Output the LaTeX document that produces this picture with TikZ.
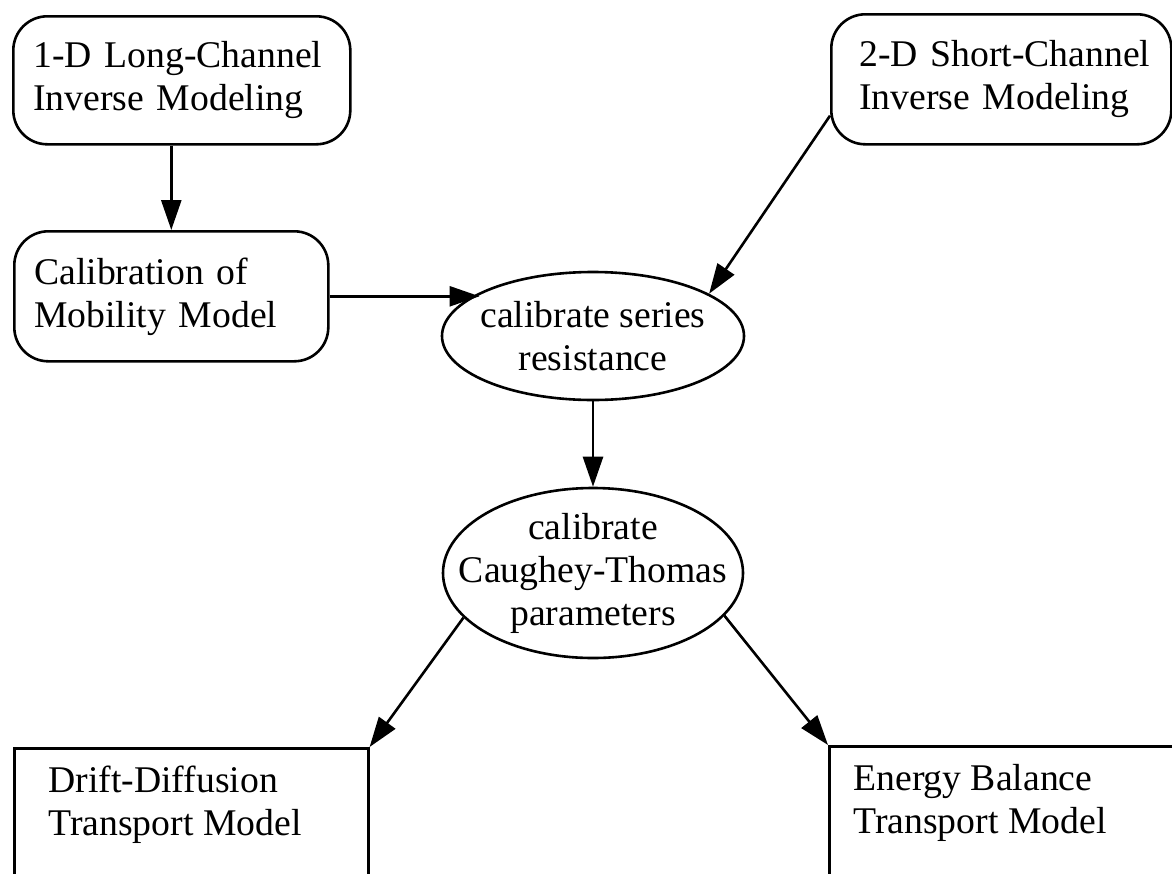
\documentclass[tikz,border=0pt]{standalone}
\usepackage{fontspec}
\setmainfont{Liberation Serif}
\usetikzlibrary{arrows.meta,shapes.geometric}
\begin{document}
\begin{tikzpicture}[x=0.5pt,y=-0.5pt,
  every node/.style={font=\fontsize{18.85pt}{21.5pt}\selectfont},
  flow/.style={line width=1.3pt,-{Triangle[length=15pt,width=10pt]}},
  roundbox/.style={draw,line width=1.3pt,rounded corners=17pt,align=left,
    inner ysep=0pt,anchor=north west},
  ovalbox/.style={draw,ellipse,line width=1.3pt,align=center,inner ysep=0pt},
  squarebox/.style={draw,line width=1.3pt,anchor=north west,inner sep=0pt},
  caption/.style={align=left,anchor=north west,inner sep=0pt}]
\useasboundingbox (0,0) rectangle (1172,873);
\clip (0,0) rectangle (1172,873);

% inverse-modeling sources
\node[roundbox,text width=148.5pt,inner xsep=10pt,minimum height=64pt] (A) at (12,15)
  {\mbox{1-D Long-Channel}\\\mbox{Inverse Modeling}};
\node[roundbox,text width=142pt,inner xsep=14pt,minimum height=65pt] (B) at (830,13)
  {\mbox{2-D Short-Channel}\\\mbox{Inverse Modeling}};
\node[roundbox,text width=137pt,inner xsep=10pt,minimum height=65pt] (C) at (13,230)
  {\mbox{Calibration of}\\\mbox{Mobility Model}};

% calibration steps
\node[ovalbox,inner xsep=-3pt,minimum width=151pt,minimum height=64pt] (D) at (593,336)
  {calibrate series\\resistance};
\node[ovalbox,inner xsep=-14pt,minimum width=150pt,minimum height=85pt] (E) at (593,573)
  {calibrate\\Caughey-Thomas\\parameters};

% transport models (boxes run past the lower edge)
\node[squarebox,minimum width=177pt,minimum height=72pt] (F) at (13,747) {};
\node[caption] (Ft) at (48,766) {Drift-Diffusion\\Transport Model};
\node[squarebox,minimum width=186pt,minimum height=73pt] (G) at (828,745) {};
\node[caption] (Gt) at (853,764) {Energy Balance\\Transport Model};

% connectors
\draw[flow] (A.south -| C.north) -- (C.north);
\draw[flow] (C.east) -- (C.east -| D.159);
\draw[flow] (B.192) -- (D.20);
\draw[flow] (D.south) -- (E.north);
\draw[flow] (E.199) -- (F.north east);
\draw[flow] (E.342) -- (G.north west);
\end{tikzpicture}
\end{document}
